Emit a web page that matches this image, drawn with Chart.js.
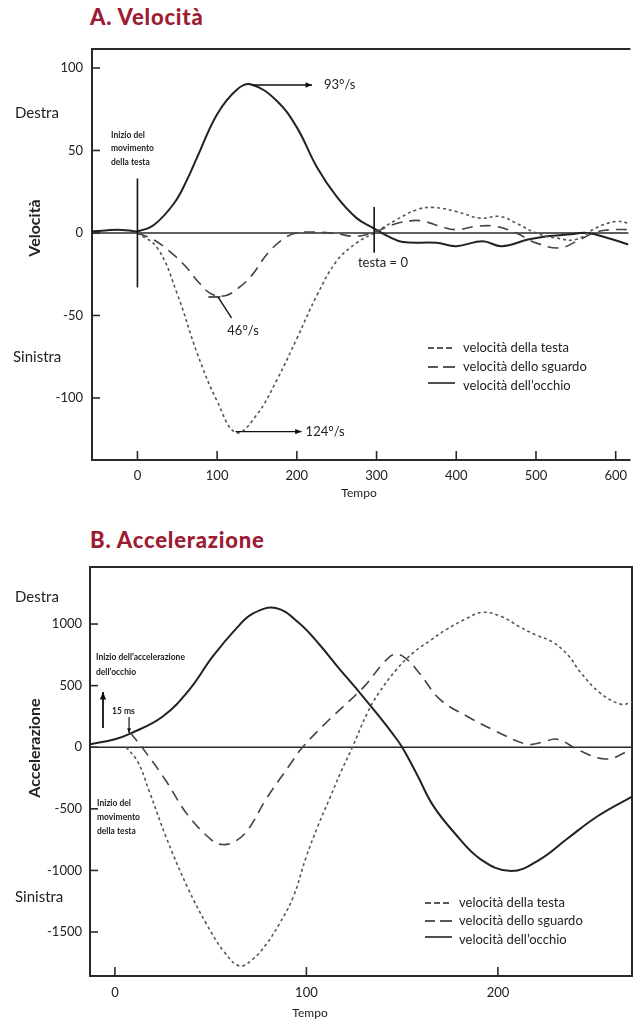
<!DOCTYPE html>
<html><head><meta charset="utf-8">
<script src="https://cdn.jsdelivr.net/npm/chart.js@4.4.1/dist/chart.umd.min.js"></script>
<style>
body{margin:0;background:#fff;width:635px;height:1024px;overflow:hidden;position:relative;font-family:Lato,sans-serif}
canvas{position:absolute;left:0}
#ca{top:0}
#cb{top:505px}
.title{position:absolute;left:90px;font-weight:900;font-size:22px;line-height:22px;letter-spacing:0.8px;color:#9c1c33;font-family:Lato,sans-serif}
</style></head><body>
<div class="title" style="top:6px">A. Velocità</div>
<div class="title" style="top:529px">B. Accelerazione</div>
<canvas id="ca" width="635" height="505"></canvas>
<canvas id="cb" width="635" height="519"></canvas>
<script>
// ---------- DATA ----------
const seriesLabels = ["velocità della testa", "velocità dello sguardo", "velocità dell’occhio"];

// A. Velocità (°/s) vs Tempo (ms)
const ticksXA = [0, 100, 200, 300, 400, 500, 600];
const ticksYA = [-100, -50, 0, 50, 100];
const timeHeadA = [0, 25, 50, 75, 100, 124, 150, 175, 200, 225, 250, 275, 297, 325, 350, 370, 400, 430, 455, 475, 500, 525, 550, 575, 600, 616];
const headVelA  = [0, -9, -37, -73, -102, -121, -110, -89, -64, -38, -17, -6, 0, 8, 14, 15.5, 13, 9, 10, 6, 0, -3, -4, 3, 7, 6];
const timeGazeA = [0, 20, 40, 60, 77, 93, 110, 125, 143, 164, 185, 200, 225, 250, 275, 300, 320, 345, 360, 380, 400, 425, 450, 475, 500, 530, 555, 575, 595, 616];
const gazeVelA  = [0, -4, -11, -20, -30, -37, -38, -34, -26, -12, -3, 0, 0.5, -0.5, -2, 1, 5, 7.5, 7, 4, 2, 4, 4, 0, -6, -9, -4, 0.5, 2, 2];
const timeEyeA  = [-57, -40, -25, -10, 0, 21, 46, 62, 75, 100, 125, 143, 175, 200, 225, 250, 275, 296, 316, 333, 375, 400, 433, 457, 490, 514, 540, 564, 590, 616];
const eyeVelA   = [1, 1.5, 2, 1.5, 1, 5, 18, 32, 46, 72, 87, 90, 80, 64, 40, 22, 9, 3, -2.4, -5.5, -6, -8, -5, -8, -4, -2, -1, 0, -3, -7];

// B. Accelerazione (°/s²) vs Tempo (ms)
const ticksXB = [0, 100, 200];
const ticksYB = [-1500, -1000, -500, 0, 500, 1000];
const timeHeadB = [6, 12, 18, 27, 38, 48, 57, 65, 72, 79, 86, 93, 100, 106, 112, 118, 124, 132, 138, 147, 156, 165, 173, 183, 192, 202, 211, 220, 229, 237, 243, 253, 264, 270];
const headAccB  = [0, -120, -360, -740, -1140, -1440, -1660, -1775, -1720, -1600, -1430, -1220, -885, -640, -420, -200, 0, 285, 445, 630, 770, 870, 955, 1040, 1095, 1060, 980, 910, 850, 740, 610, 445, 350, 365];
const timeGazeB = [8, 17, 27, 38, 51, 56, 62, 69, 79, 91, 98, 112, 130, 140, 146, 152, 159, 170, 184, 199, 215, 223, 231, 243, 257, 270];
const gazeAccB  = [120, -60, -280, -550, -760, -790, -770, -680, -420, -150, 0, 225, 490, 680, 755, 720, 600, 385, 250, 130, 25, 40, 65, -30, -95, -15];
const timeEyeB  = [-13, 0, 8, 25, 39, 51, 64, 72, 84, 96, 107, 117, 128, 138, 145, 150, 158, 166, 177, 191, 207, 222, 236, 252, 270];
const eyeAccB   = [25, 65, 110, 250, 470, 735, 975, 1085, 1130, 1010, 830, 640, 440, 250, 110, 0, -230, -470, -690, -910, -1005, -910, -745, -560, -400];

// ---------- STYLES ----------
const TXT = '#222';
const styles = [
  {color:'#555', width:1.6, dash:[3,3], legendDash:[6,3]},
  {color:'#444', width:1.6, dash:[11,7], legendDash:[10,5,4,0]},
  {color:'#222', width:2, dash:[], legendDash:[]}
];

function pts(t, v){ return t.map((x,i)=>({x:x, y:v[i]})); }
function makeDatasets(arrs){
  return arrs.map((a,i)=>({
    label: seriesLabels[i], data: pts(a[0], a[1]),
    borderColor: styles[i].color, borderWidth: styles[i].width, borderDash: styles[i].dash,
    pointRadius: 0, fill:false, tension:0.4, legendDash: styles[i].legendDash
  }));
}

function arrowHead(ctx, x1, y1, x2, y2, size){
  const a = Math.atan2(y2-y1, x2-x1);
  ctx.beginPath();
  ctx.moveTo(x2, y2);
  ctx.lineTo(x2 - size*Math.cos(a-0.4), y2 - size*Math.sin(a-0.4));
  ctx.lineTo(x2 - size*Math.cos(a+0.4), y2 - size*Math.sin(a+0.4));
  ctx.closePath(); ctx.fill();
}

const annotPlugin = {
  id: 'annot',
  beforeDatasetsDraw(chart, args, o){
    const {ctx, chartArea:{left,right,top,bottom}, scales:{x,y}} = chart;
    ctx.save();
    ctx.strokeStyle = '#2a2a2a'; ctx.lineWidth = 2; ctx.setLineDash([]);
    ctx.beginPath();
    if (o.box) { ctx.rect(left, top, right-left, bottom-top); }
    else { ctx.moveTo(right+2, top); ctx.lineTo(left, top); ctx.lineTo(left, bottom); ctx.lineTo(right+2, bottom); }
    ctx.stroke();
    const y0 = y.getPixelForValue(0);
    ctx.lineWidth = 1.6;
    ctx.beginPath(); ctx.moveTo(left, y0); ctx.lineTo(right, y0); ctx.stroke();
    y.ticks.forEach(t=>{ const py = y.getPixelForValue(t.value); ctx.beginPath(); ctx.moveTo(left, py); ctx.lineTo(left+8, py); ctx.stroke(); });
    x.ticks.forEach(t=>{ const px = x.getPixelForValue(t.value); ctx.beginPath(); ctx.moveTo(px, bottom); ctx.lineTo(px, bottom-9); ctx.stroke(); });
    ctx.restore();
  },
  afterDatasetsDraw(chart, args, o){
    const {ctx, scales:{x,y}} = chart;
    ctx.save();
    ctx.fillStyle = TXT; ctx.strokeStyle = '#111'; ctx.setLineDash([]);
    (o.items||[]).forEach(it=>{
      if (it.type === 'line') {
        const p = it.pts.map(q=>[x.getPixelForValue(q[0]), y.getPixelForValue(q[1])]);
        ctx.lineWidth = it.width || 1.4;
        ctx.beginPath(); ctx.moveTo(p[0][0], p[0][1]);
        for (let i=1;i<p.length;i++) ctx.lineTo(p[i][0], p[i][1]);
        ctx.stroke();
        if (it.arrow) { const n=p.length; ctx.fillStyle='#111'; arrowHead(ctx, p[n-2][0], p[n-2][1], p[n-1][0], p[n-1][1], it.arrow); ctx.fillStyle=TXT; }
      } else if (it.type === 'dtext') {
        ctx.font = it.font; ctx.textAlign = it.align||'left'; ctx.textBaseline='middle';
        ctx.fillText(it.text, x.getPixelForValue(it.t), y.getPixelForValue(it.v));
      } else if (it.type === 'ptext') {
        ctx.font = it.font; ctx.textAlign = it.align||'left'; ctx.textBaseline='middle';
        if (it.rotate) { ctx.save(); ctx.translate(it.x, it.y); ctx.rotate(it.rotate); ctx.fillText(it.text, 0, 0); ctx.restore(); }
        else ctx.fillText(it.text, it.x, it.y);
      }
    });
    const L = o.legend;
    if (L) {
      chart.data.datasets.forEach((ds,i)=>{
        const ly = L.rows[i];
        ctx.strokeStyle = '#222'; ctx.lineWidth = 1.6; ctx.setLineDash(ds.legendDash);
        ctx.beginPath(); ctx.moveTo(L.x1, ly + (i===2? -2:0)); ctx.lineTo(L.x2, ly + (i===2? -2:0)); ctx.stroke();
        ctx.setLineDash([]);
        ctx.font = '13px Lato'; ctx.textAlign='left'; ctx.textBaseline='middle'; ctx.fillStyle = TXT;
        ctx.fillText(ds.label, L.tx, ly + (i===2? 1:0));
      });
    }
    ctx.restore();
  }
};

function tickSetter(vals){ return s => { s.ticks = vals.map(v=>({value:v})); }; }
const tickFont = {family:'Lato', size:13};
const plainTick = v => String(v);
const SMALL = 'bold 8.5px Lato';

// ---------- CHART A ----------
new Chart(document.getElementById('ca'), {
  type: 'line',
  data: { datasets: makeDatasets([[timeHeadA, headVelA],[timeGazeA, gazeVelA],[timeEyeA, eyeVelA]]) },
  options: {
    responsive:false, animation:false, events:[],
    layout:{padding:{top:49, right:0, left:0, bottom:0}},
    scales:{
      x:{type:'linear', min:-57, max:616, afterBuildTicks:tickSetter(ticksXA), afterFit:s=>{s.height=45;},
         grid:{display:false, drawTicks:false}, border:{display:false},
         ticks:{padding:8, font:tickFont, color:TXT, maxRotation:0, autoSkip:false, callback:plainTick}},
      y:{type:'linear', min:-137.6, max:111.5, afterBuildTicks:tickSetter(ticksYA), afterFit:s=>{s.width=92;},
         grid:{display:false, drawTicks:false}, border:{display:false},
         ticks:{padding:9, font:tickFont, color:TXT, autoSkip:false, callback:plainTick}}
    },
    plugins:{
      legend:{display:false}, tooltip:{enabled:false},
      annot:{
        box:false,
        legend:{x1:428, x2:455, tx:463, rows:[348, 367, 385]},
        items:[
          {type:'ptext', x:15, y:113, text:'Destra', font:'15px Lato'},
          {type:'ptext', x:13, y:357, text:'Sinistra', font:'15px Lato'},
          {type:'ptext', x:35, y:228, text:'Velocità', font:'bold 16px Lato', align:'center', rotate:-Math.PI/2},
          {type:'ptext', x:359, y:493, text:'Tempo', font:'12px Lato', align:'center'},
          {type:'ptext', x:111, y:135, text:'Inizio del', font:SMALL},
          {type:'ptext', x:111, y:148, text:'movimento', font:SMALL},
          {type:'ptext', x:111, y:162, text:'della testa', font:SMALL},
          {type:'line', pts:[[0,33],[0,-33]], width:1.6},
          {type:'line', pts:[[143,89.7],[219,89.7]], arrow:7},
          {type:'dtext', t:234, v:89.7, text:'93°/s', font:'13px Lato'},
          {type:'line', pts:[[89,-38.8],[104,-38.8]]},
          {type:'line', pts:[[101,-38.8],[118,-51.5]]},
          {type:'dtext', t:132.5, v:-59.5, text:'46°/s', font:'13px Lato', align:'center'},
          {type:'line', pts:[[123,-120.4],[206,-120.4]], arrow:7},
          {type:'dtext', t:211, v:-120.4, text:'124°/s', font:'13px Lato'},
          {type:'line', pts:[[297,15.8],[297,-12]], width:1.6},
          {type:'dtext', t:308, v:-18.2, text:'testa = 0', font:'13px Lato', align:'center'}
        ]
      }
    }
  },
  plugins:[annotPlugin]
});

// ---------- CHART B ----------
new Chart(document.getElementById('cb'), {
  type: 'line',
  data: { datasets: makeDatasets([[timeHeadB, headAccB],[timeGazeB, gazeAccB],[timeEyeB, eyeAccB]]) },
  options: {
    responsive:false, animation:false, events:[],
    layout:{padding:{top:62, right:3, left:0, bottom:0}},
    scales:{
      x:{type:'linear', min:-13, max:270, afterBuildTicks:tickSetter(ticksXB), afterFit:s=>{s.height=48;},
         grid:{display:false, drawTicks:false}, border:{display:false},
         ticks:{padding:9, font:tickFont, color:TXT, maxRotation:0, autoSkip:false, callback:plainTick}},
      y:{type:'linear', min:-1857, max:1463, afterBuildTicks:tickSetter(ticksYB), afterFit:s=>{s.width=90;},
         grid:{display:false, drawTicks:false}, border:{display:false},
         ticks:{padding:8, font:tickFont, color:TXT, autoSkip:false, callback:plainTick}}
    },
    plugins:{
      legend:{display:false}, tooltip:{enabled:false},
      annot:{
        box:true,
        legend:{x1:425, x2:452, tx:459, rows:[398, 416, 434]},
        items:[
          {type:'ptext', x:15, y:92, text:'Destra', font:'15px Lato'},
          {type:'ptext', x:15, y:392, text:'Sinistra', font:'15px Lato'},
          {type:'ptext', x:35, y:243, text:'Accelerazione', font:'bold 16px Lato', align:'center', rotate:-Math.PI/2},
          {type:'ptext', x:310, y:508, text:'Tempo', font:'12px Lato', align:'center'},
          {type:'ptext', x:96, y:152, text:'Inizio dell’accelerazione', font:SMALL},
          {type:'ptext', x:96, y:167, text:'dell’occhio', font:SMALL},
          {type:'line', pts:[[-6.2,156],[-6.2,448]], arrow:8, width:1.8},
          {type:'ptext', x:112, y:206, text:'15 ms', font:SMALL},
          {type:'line', pts:[[7.4,245],[7.4,116]], arrow:5, width:1.2},
          {type:'ptext', x:97, y:298, text:'Inizio del', font:SMALL},
          {type:'ptext', x:97, y:312, text:'movimento', font:SMALL},
          {type:'ptext', x:97, y:326, text:'della testa', font:SMALL}
        ]
      }
    }
  },
  plugins:[annotPlugin]
});
</script>
</body></html>
